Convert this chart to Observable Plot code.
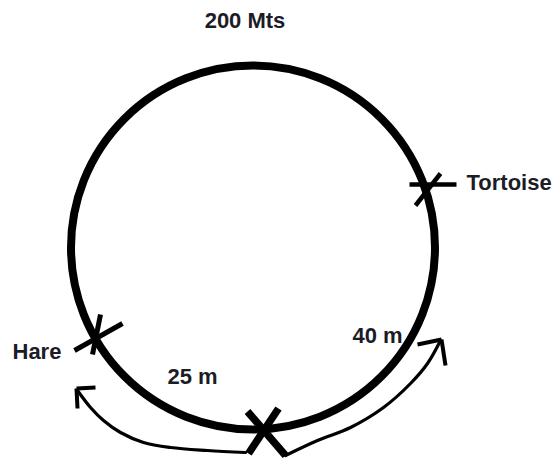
<!DOCTYPE html>
<html><head><meta charset="utf-8">
<script src="https://cdn.jsdelivr.net/npm/d3@7"></script>
<script src="https://cdn.jsdelivr.net/npm/@observablehq/plot@0.6"></script>
<style>html,body{margin:0;padding:0;background:#fff}#chart svg{display:block}</style>
</head><body><div id="chart"></div>
<script>
// Sketch coordinates (pixel-like units)
const track = [{cx: 252.5, cy: 247, r: 182}];           // 200 m circular track
const labels = ["200 Mts", "Tortoise", "Hare", "25 m", "40 m"];
const labelX = [244.5, 466, 12, 167, 352];
const labelY = [27, 189, 358, 383, 342];
const labelAnchor = ["middle", "start", "start", "start", "start"];

// Marker crosses (hand-drawn strokes): [x1, y1, x2, y2, weight]
const tortoiseMark = [[409, 184, 456, 184, 4.5], [415, 205, 440, 173, 4.5]];
const hareMark = [[74, 350, 122, 323, 5], [100, 314, 92, 354, 5]];
const startMark = [[247, 411, 285, 455, 7.5], [278, 408, 248, 453, 7.5]];

// Arrows
const leftArrow = [[245, 452], [207, 450], [170, 447], [143, 442], [120, 432], [103, 420], [90, 407], [77, 390]];
const leftHead = [[76, 388, 95, 387, 4], [76, 388, 77, 408, 4]];
const rightArrow = [[285, 455], [317, 440], [350, 427], [383, 407], [410, 383], [427, 363], [440, 340]];
const rightHead = [[441, 339, 417, 344, 4], [441, 339, 445, 365, 4]];

const texts = labels.map((t, i) => ({text: t, x: labelX[i], y: labelY[i], anchor: labelAnchor[i]}));
const segs = [...tortoiseMark, ...hareMark, ...startMark, ...leftHead, ...rightHead]
  .map(([x1, y1, x2, y2, w]) => ({x1, y1, x2, y2, w}));

const chart = Plot.plot({
  width: 555, height: 463, margin: 0,
  x: {domain: [0, 555], range: [0, 555], axis: null},
  y: {domain: [0, 463], range: [0, 463], axis: null},
  r: {type: "identity"},
  style: {background: "white", fontFamily: "'Liberation Sans', Arial, sans-serif"},
  marks: [
    Plot.dot(track, {x: "cx", y: "cy", r: "r", stroke: "black", strokeWidth: 8, fill: "none"}),
    Plot.line(leftArrow, {x: d => d[0], y: d => d[1], curve: "catmull-rom", stroke: "black", strokeWidth: 3.2}),
    Plot.line(rightArrow, {x: d => d[0], y: d => d[1], curve: "catmull-rom", stroke: "black", strokeWidth: 3.2}),
    Plot.link(segs, {x1: "x1", y1: "y1", x2: "x2", y2: "y2", stroke: "black", strokeWidth: "w", strokeLinecap: "butt"}),
    ...["middle", "start"].map(a => Plot.text(texts.filter(d => d.anchor === a), {
      x: "x", y: "y", text: "text", textAnchor: a, lineAnchor: "bottom",
      fontSize: 22, fontWeight: "bold", fill: "#1c1c26"
    }))
  ]
});
document.getElementById("chart").appendChild(chart);
</script>
</body></html>
